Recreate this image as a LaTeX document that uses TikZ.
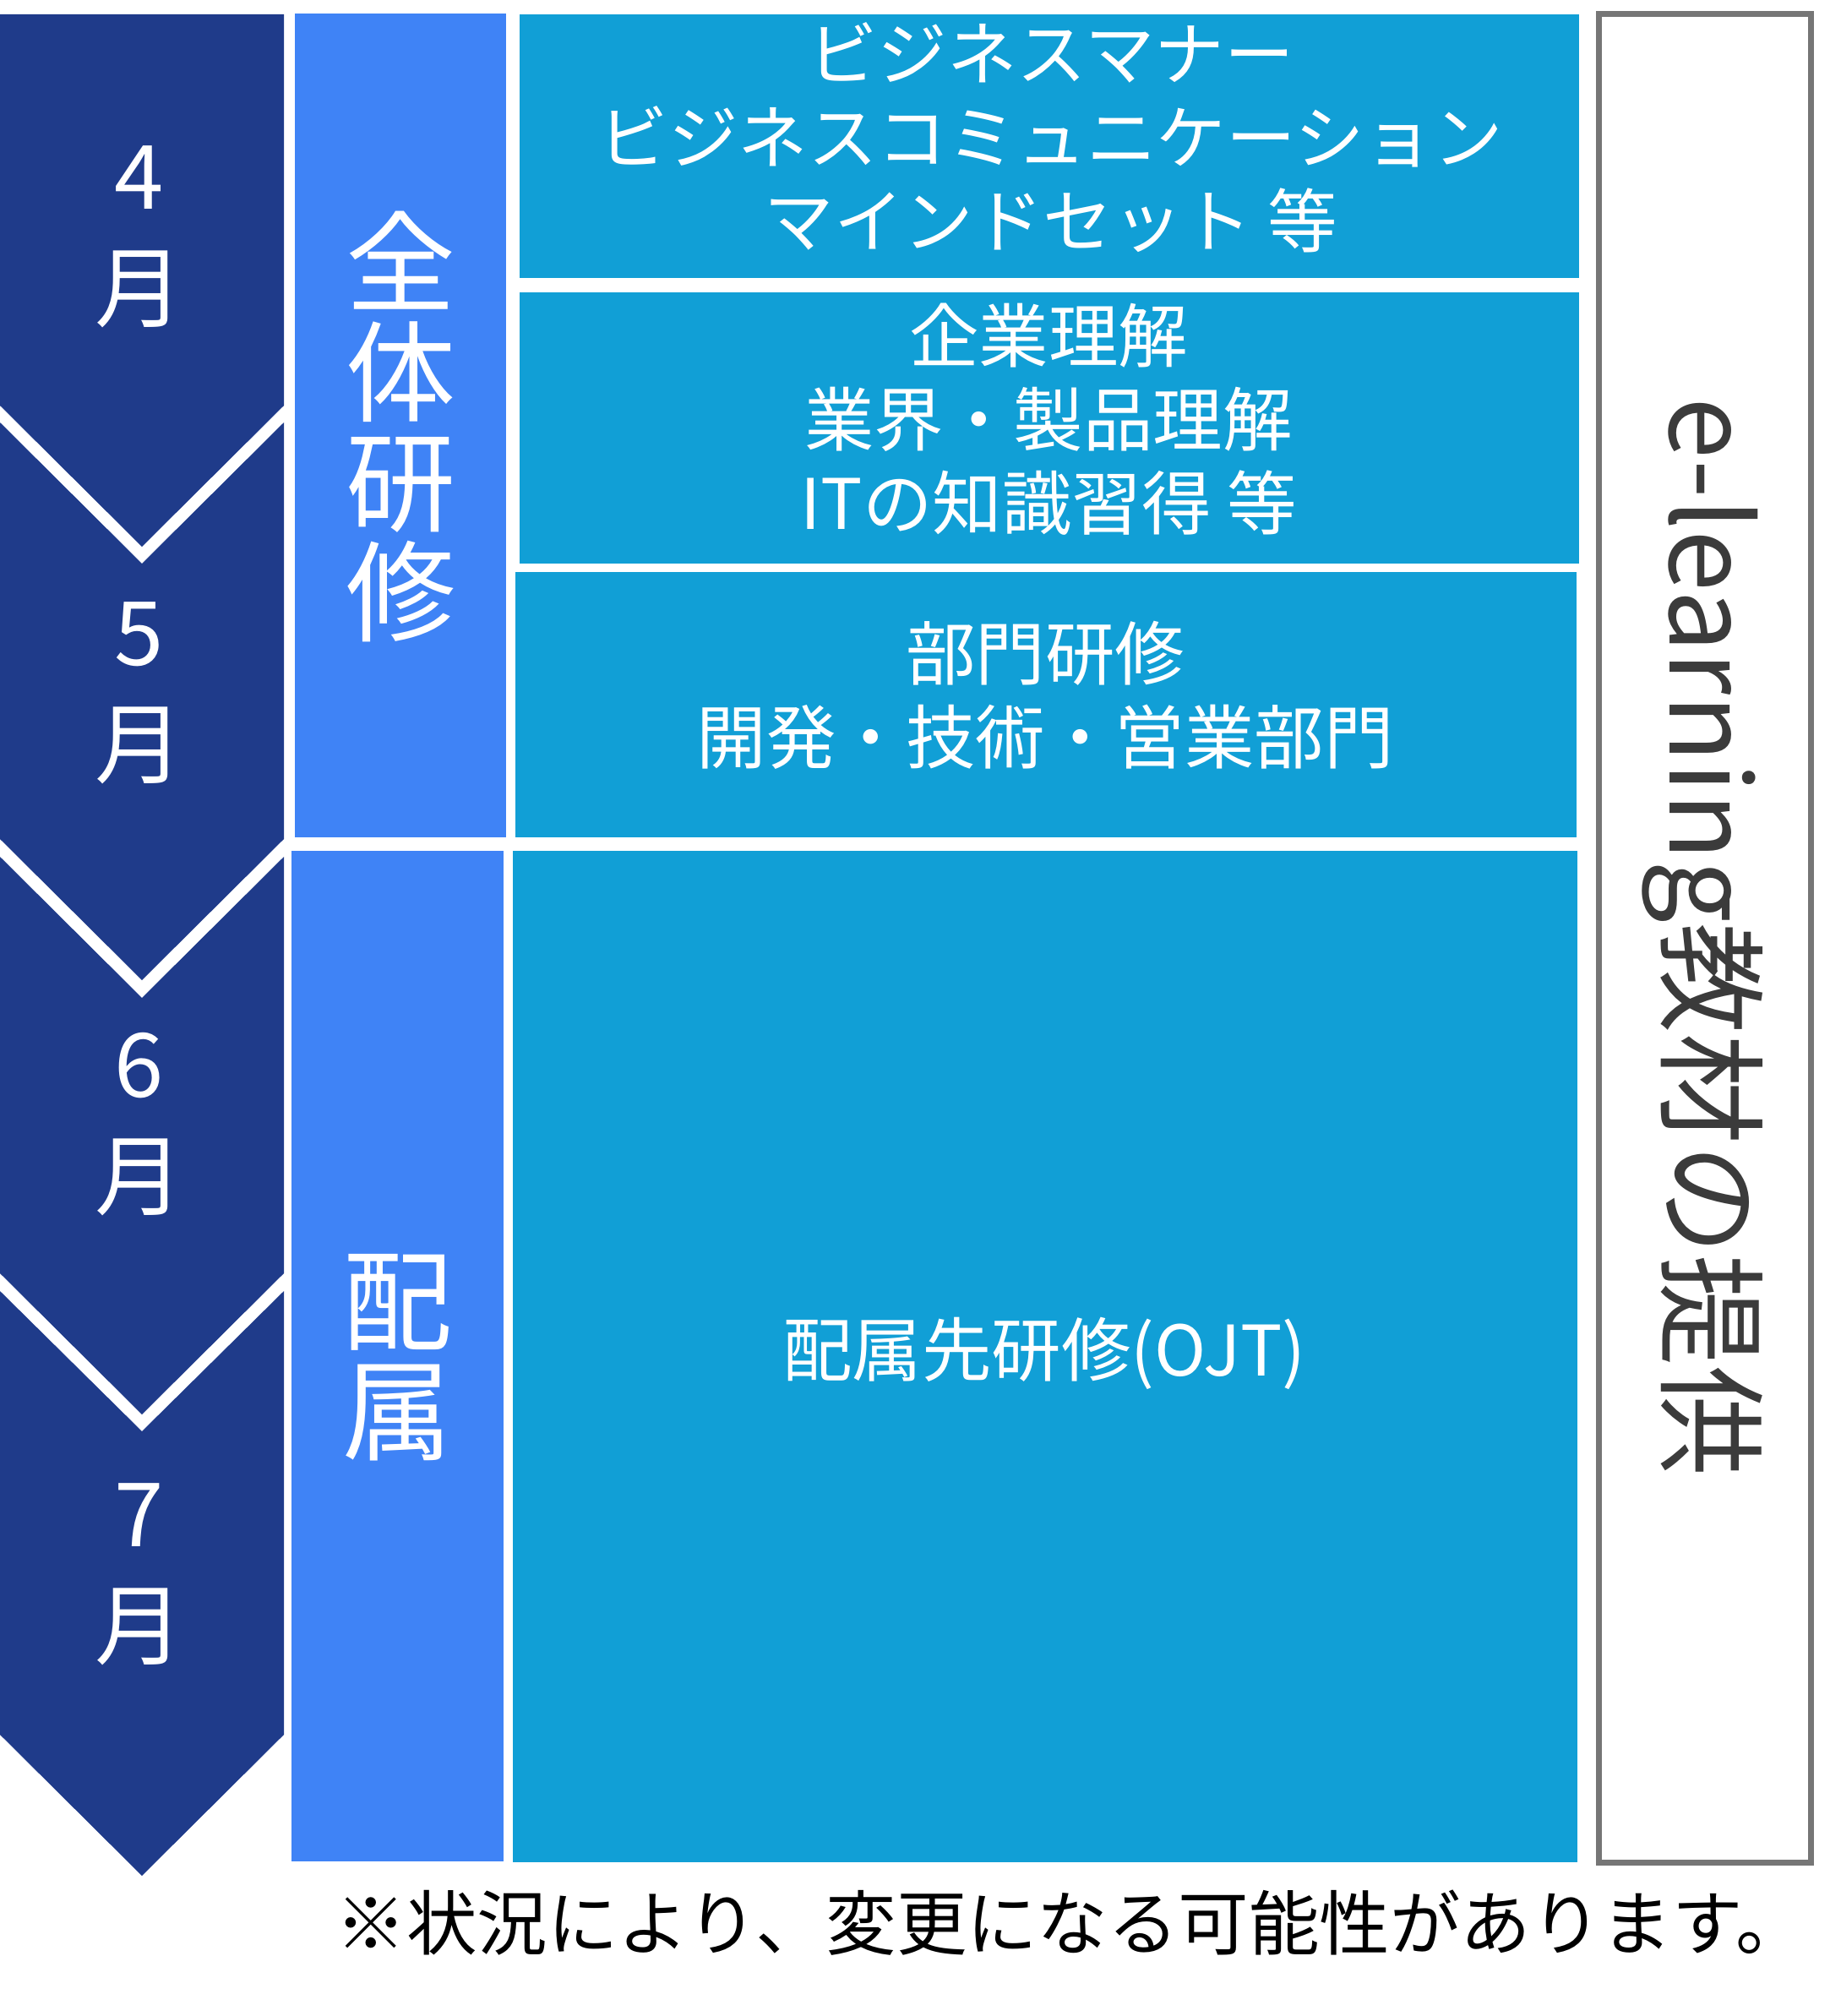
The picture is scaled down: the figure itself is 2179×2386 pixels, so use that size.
\documentclass[tikz,border=0pt]{standalone}
\usepackage{fontspec}
\setmainfont{Noto Sans CJK JP}
\definecolor{navy}{HTML}{1F3B8A}
\definecolor{lblue}{HTML}{3F83F6}
\definecolor{cyanbox}{HTML}{119FD6}
\definecolor{framegray}{HTML}{767676}
\definecolor{textgray}{HTML}{3B3B3B}
\begin{document}
\begin{tikzpicture}[x=1bp,y=-1bp,
  monthshape/.style={fill=navy},
  phase/.style={fill=lblue},
  topic/.style={fill=cyanbox},
  monthtext/.style={text=white,align=center,inner sep=0pt,font=\fontsize{105bp}{132bp}\selectfont},
  phasetext/.style={text=white,align=center,inner sep=0pt,font=\fontsize{130bp}{130bp}\selectfont},
  topictext/.style={text=white,align=center,inner sep=0pt,font=\fontsize{82.5bp}{99bp}\selectfont},
  elearn/.style={text=textgray,inner sep=0pt,rotate=-90,font=\fontsize{131bp}{131bp}\selectfont},
  note/.style={text=black,inner sep=0pt,font=\fontsize{83.5bp}{96bp}\selectfont}]
\useasboundingbox[fill=white] (0,0) rectangle (2179,2386);
% month chevrons
\fill[monthshape] (0,17) -- (336,17) -- (336,480) -- (168,647) -- (0,480) -- cycle;
\fill[monthshape] (0,500) -- (168,667) -- (336,500) -- (336,993) -- (168,1160) -- (0,993) -- cycle;
\fill[monthshape] (0,1014) -- (168,1181) -- (336,1014) -- (336,1507) -- (168,1674) -- (0,1507) -- cycle;
\fill[monthshape] (0,1528) -- (168,1694) -- (336,1528) -- (336,2053) -- (168,2220) -- (0,2053) -- cycle;
\node[monthtext] (m4) at (165,280) {4\\月};
\node[monthtext] (m5) at (165,820) {5\\月};
\node[monthtext] (m6) at (165,1331) {6\\月};
\node[monthtext] (m7) at (165,1863) {7\\月};
% phase column
\fill[phase] (349,16) rectangle (599,991);
\fill[phase] (345,1007) rectangle (596,2203);
\node[phasetext] (p1) at (474,505) {全\\体\\研\\修};
\node[phasetext] (p2) at (470,1607) {配\\属};
% topic boxes
\fill[topic] (615,17) rectangle (1869,329);
\fill[topic] (615,346) rectangle (1869,667);
\fill[topic] (610,677) rectangle (1866,991);
\fill[topic] (607,1007) rectangle (1867,2204);
\node[topictext] (t1) at (1244,163) {ビジネスマナー\\ビジネスコミュニケーション\\マインドセット 等};
\node[topictext] (t2) at (1241,496) {企業理解\\業界・製品理解\\ITの知識習得 等};
\node[topictext] (t3) at (1237,823) {部門研修\\開発・技術・営業部門};
\node[topictext] (t4) at (1236,1602) {配属先研修(OJT)};
% e-learning box
\draw[framegray,line width=7bp,fill=white] (1892.5,17) rectangle (2143.5,2204);
\node[elearn] (el) at (2015,1109) {e-learning教材の提供};
% footnote
\node[note] (fn) at (1268,2276) {※状況により、変更になる可能性があります。};
\end{tikzpicture}
\end{document}
